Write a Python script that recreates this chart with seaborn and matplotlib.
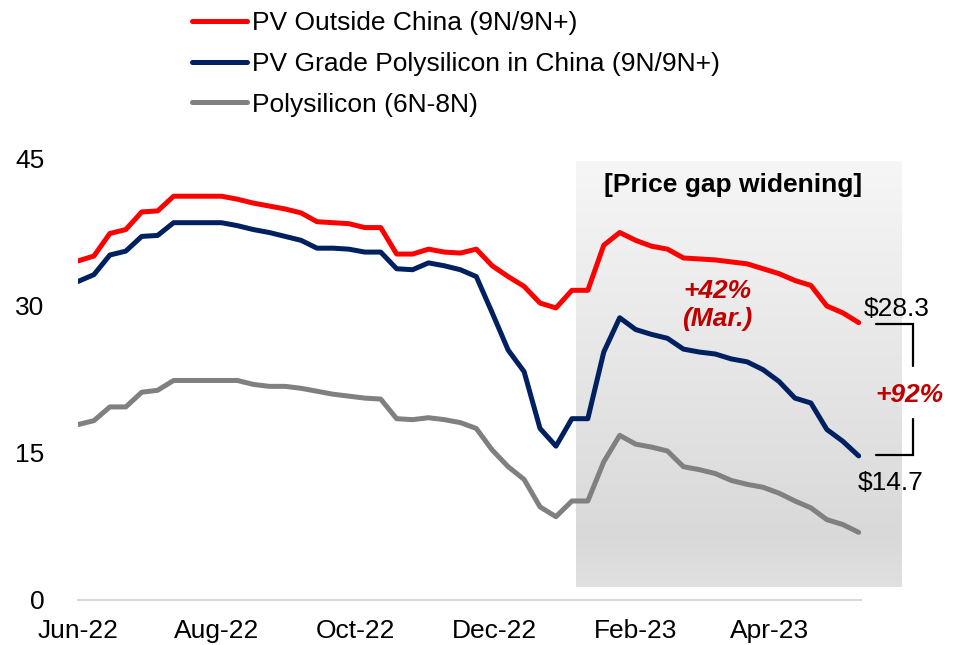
import numpy as np
import pandas as pd
import seaborn as sns
import matplotlib.pyplot as plt
import matplotlib.dates as mdates
from matplotlib.colors import LinearSegmentedColormap
from matplotlib.lines import Line2D

# weekly prices, USD/kg
dates = pd.date_range('2022-06-01', periods=50, freq='7D')
outside_china = [34.6, 35.1, 37.4, 37.8, 39.6, 39.7, 41.2, 41.2, 41.2, 41.2,
                 40.9, 40.5, 40.2, 39.9, 39.5, 38.6, 38.5, 38.4, 38.0, 38.0,
                 35.3, 35.3, 35.8, 35.5, 35.4, 35.8, 34.1, 33.0, 32.0, 30.3,
                 29.8, 31.6, 31.6, 36.2, 37.5, 36.7, 36.1, 35.8, 34.9, 34.8,
                 34.7, 34.5, 34.3, 33.8, 33.3, 32.6, 32.1, 30.0, 29.3, 28.3]
china_pv = [32.5, 33.2, 35.2, 35.6, 37.1, 37.2, 38.5, 38.5, 38.5, 38.5,
            38.2, 37.8, 37.5, 37.1, 36.7, 35.9, 35.9, 35.8, 35.5, 35.5,
            33.8, 33.7, 34.4, 34.1, 33.7, 33.0, 29.3, 25.5, 23.3, 17.5,
            15.7, 18.5, 18.5, 25.3, 28.8, 27.6, 27.1, 26.7, 25.6, 25.3,
            25.1, 24.6, 24.3, 23.5, 22.3, 20.6, 20.1, 17.4, 16.2, 14.7]
poly_6n8n = [17.9, 18.3, 19.7, 19.7, 21.2, 21.4, 22.4, 22.4, 22.4, 22.4,
             22.4, 22.0, 21.8, 21.8, 21.6, 21.3, 21.0, 20.8, 20.6, 20.5,
             18.5, 18.4, 18.6, 18.4, 18.1, 17.5, 15.3, 13.6, 12.3, 9.5,
             8.5, 10.1, 10.1, 14.1, 16.8, 15.9, 15.6, 15.2, 13.6, 13.3,
             12.9, 12.2, 11.8, 11.5, 10.9, 10.1, 9.4, 8.2, 7.7, 6.9]
series_names = ['PV Outside China (9N/9N+)',
                'PV Grade Polysilicon in China (9N/9N+)',
                'Polysilicon (6N-8N)']
colors = ['#ff0000', '#002060', '#808080']

df = pd.DataFrame({
    'date': np.tile(dates, 3),
    'price': outside_china + china_pv + poly_6n8n,
    'series': np.repeat(series_names, len(dates)),
})

sns.set_theme(style='white')
plt.rcParams['font.family'] = ['Liberation Sans', 'DejaVu Sans']
plt.rcParams['text.color'] = 'black'

fig = plt.figure(figsize=(9.57, 6.45), dpi=100)
ax = fig.add_axes([0.0815, 0.0698, 0.8657, 0.6837])

sns.lineplot(data=df, x='date', y='price', hue='series',
             palette=dict(zip(series_names, colors)), linewidth=3.6,
             legend=False, ax=ax, zorder=3,
             solid_capstyle='round', solid_joinstyle='round')

# shaded "price gap widening" box
gap_start = mdates.date2num(pd.Timestamp('2023-01-06'))
gap_end = mdates.date2num(pd.Timestamp('2023-05-29'))
grad = np.linspace(0, 1, 256).reshape(-1, 1)
cmap = LinearSegmentedColormap.from_list(
    'gap', [(0, '#f6f6f6'), (0.88, '#d9d9d9'), (1, '#e0e0e0')])
ax.imshow(grad, extent=[gap_start, gap_end, 1.3, 44.7], origin='upper',
          cmap=cmap, aspect='auto', zorder=0, clip_on=False)

ax.set_ylim(0, 45)
ax.set_yticks([0, 15, 30, 45])
ax.set_xlim(dates[0], dates[0] + pd.Timedelta(days=364))
ax.xaxis.set_major_locator(mdates.MonthLocator(bymonth=[2, 4, 6, 8, 10, 12]))
ax.xaxis.set_major_formatter(mdates.DateFormatter('%b-%y'))
ax.set_xlabel('')
ax.set_ylabel('')

for s in ['top', 'right', 'left']:
    ax.spines[s].set_visible(False)
ax.spines['bottom'].set_color('#d9d9d9')
ax.spines['bottom'].set_linewidth(1.5)
ax.spines['bottom'].set_bounds(mdates.date2num(dates[0]),
                               mdates.date2num(dates[-1] + pd.Timedelta(days=1)))
ax.tick_params(axis='x', length=7, width=1.5, color='#d9d9d9', pad=7,
               labelsize=19, labelcolor='black')
ax.tick_params(axis='y', length=0, pad=24, labelsize=19, labelcolor='black')

# annotations
ax.text(pd.Timestamp('2023-03-16'), 42.3, '[Price gap widening]',
        ha='center', va='center', fontsize=19, fontweight='bold', color='black')
ax.text(pd.Timestamp('2023-03-09'), 31.5, '+42%', ha='center', va='center',
        fontsize=19, fontweight='bold', fontstyle='italic', color='#c00000')
ax.text(pd.Timestamp('2023-03-09'), 28.7, '(Mar.)', ha='center', va='center',
        fontsize=19, fontweight='bold', fontstyle='italic', color='#c00000')

last = dates[-1]
ax.annotate(f'${outside_china[-1]:.1f}', xy=(last, outside_china[-1]),
            xytext=(38, 14), textcoords='offset pixels', ha='center',
            va='center', fontsize=19, color='black')
ax.annotate(f'${china_pv[-1]:.1f}', xy=(last, china_pv[-1]),
            xytext=(32, -27), textcoords='offset pixels', ha='center',
            va='center', fontsize=19, color='black')

bx0 = last + pd.Timedelta(days=7.5)
bx1 = last + pd.Timedelta(days=23.7)
ax.plot([bx0, bx1, bx1], [28.2, 28.2, 23.9], color='black', lw=1.6,
        clip_on=False, solid_joinstyle='miter')
ax.plot([bx1, bx1, bx0], [18.5, 14.8, 14.8], color='black', lw=1.6,
        clip_on=False, solid_joinstyle='miter')
ax.text(last + pd.Timedelta(days=22.5), 20.9, '+92%', ha='center', va='center',
        fontsize=19, fontweight='bold', fontstyle='italic', color='#c00000')

handles = [Line2D([], [], color=c, lw=3.6, solid_capstyle='round') for c in colors]
fig.legend(handles, series_names, loc='upper left', bbox_to_anchor=(0.181, 1.011),
           frameon=False, fontsize=19, handlelength=2.1, handletextpad=0.19,
           labelspacing=0.63, borderpad=0.2, labelcolor='black')

fig.savefig('out.png', dpi=100)
